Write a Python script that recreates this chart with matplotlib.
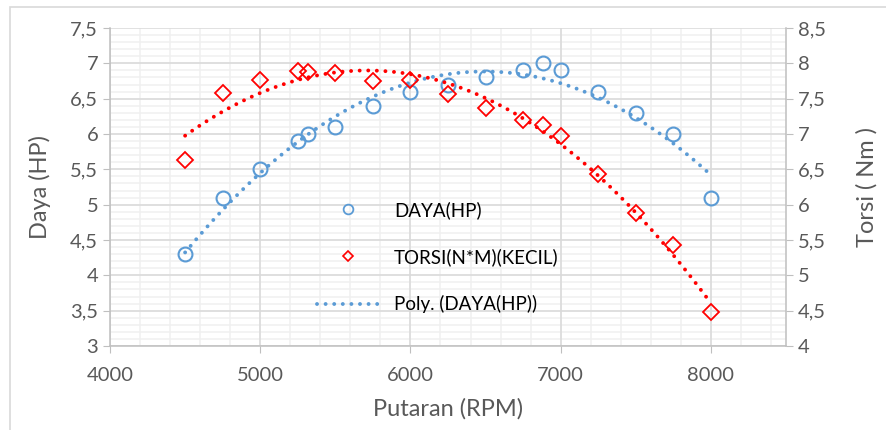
import numpy as np
import matplotlib
matplotlib.use('Agg')
import matplotlib.pyplot as plt
from matplotlib.ticker import MultipleLocator, FuncFormatter
from matplotlib.lines import Line2D
from matplotlib.patches import Rectangle

plt.rcParams['font.family'] = ['Lato', 'DejaVu Sans']

# data
rpm = [4500, 4750, 5000, 5250, 5320, 5500, 5750, 6000, 6250, 6500, 6750, 6880, 7000, 7250, 7500, 7750, 8000]
daya = [4.3, 5.1, 5.5, 5.9, 6.0, 6.1, 6.4, 6.6, 6.7, 6.8, 6.9, 7.0, 6.9, 6.6, 6.3, 6.0, 5.1]
torsi = [6.63, 7.58, 7.76, 7.89, 7.88, 7.87, 7.75, 7.76, 7.57, 7.37, 7.2, 7.13, 6.97, 6.44, 5.88, 5.43, 4.48]

blue = '#5B9BD5'
red = '#FF0000'
grey = '#595959'

fig = plt.figure(figsize=(8.86, 4.3), dpi=100)
fig.patches.append(Rectangle((10 / 886, -0.1), 1.0, 1 - 7 / 430 + 0.1, transform=fig.transFigure,
                             fill=False, edgecolor='#D9D9D9', lw=1.2))
ax = fig.add_axes([110 / 886, 1 - 346 / 430, 676 / 886, 318 / 430])
ax2 = ax.twinx()

comma = FuncFormatter(lambda v, p: ('%g' % v).replace('.', ','))

ax.set_xlim(4000, 8500)
ax.set_ylim(3, 7.5)
ax2.set_ylim(4, 8.5)
ax.xaxis.set_major_locator(MultipleLocator(1000))
ax.yaxis.set_major_locator(MultipleLocator(0.5))
ax2.yaxis.set_major_locator(MultipleLocator(0.5))
ax.yaxis.set_major_formatter(comma)
ax2.yaxis.set_major_formatter(comma)

# minor grid under the major grid
ax.vlines(np.arange(4200, 8500, 200), 3, 7.5, color='#F0F0F0', lw=1.1, zorder=0.1)
ax.hlines(np.arange(3.1, 7.5, 0.1), 4000, 8500, color='#F0F0F0', lw=1.1, zorder=0.1)
ax.grid(which='major', color='#D9D9D9', lw=1.1)
ax.set_axisbelow(True)

for a in (ax, ax2):
    for s in a.spines.values():
        s.set_color('#BFBFBF')
        s.set_linewidth(1.1)
    a.spines['top'].set_visible(False)
    a.tick_params(which='major', length=5, color='#BFBFBF', labelcolor=grey, labelsize=14.5)
ax.spines['right'].set_visible(False)
ax2.spines['left'].set_visible(False)
ax2.spines['bottom'].set_visible(False)
ax.tick_params(axis='x', pad=10)

# trendlines (2nd order polynomial)
xf = np.linspace(rpm[0], rpm[-1], 200)
pd_ = np.polyfit(rpm, daya, 2)
pt_ = np.polyfit(rpm, torsi, 2)
dot = (0, (0.01, 2.2))
ax.plot(xf, np.polyval(pd_, xf), color=blue, lw=2.8, ls=dot, dash_capstyle='round')
ax2.plot(xf, np.polyval(pt_, xf), color=red, lw=2.8, ls=dot, dash_capstyle='round')

ax.plot(rpm, daya, ls='none', marker='o', ms=10, mfc='none', mec=blue, mew=1.5)
ax2.plot(rpm, torsi, ls='none', marker='D', ms=8, mfc='none', mec=red, mew=1.3)

ax.set_xlabel('Putaran (RPM)', color=grey, fontsize=17, labelpad=10)
ax.set_ylabel('Daya (HP)', color=grey, fontsize=17, labelpad=14)
ax2.set_ylabel('Torsi ( Nm )', color=grey, fontsize=17, labelpad=22)

handles = [
    Line2D([], [], ls='none', marker='o', ms=7, mfc='none', mec=blue, mew=1.3),
    Line2D([], [], ls='none', marker='D', ms=5.5, mfc='none', mec=red, mew=1.2),
    Line2D([], [], color=blue, lw=2.8, ls=dot, dash_capstyle='round'),
]
labels = ['DAYA(HP)', 'TORSI(N*M)(KECIL)', 'Poly. (DAYA(HP))']
leg = ax2.legend(handles, labels, loc='upper left', bbox_to_anchor=(0.295, 0.48), frameon=False,
                 fontsize=13.5, labelspacing=1.56, handlelength=3.3, handletextpad=0.8,
                 borderaxespad=0)
for t in leg.get_texts():
    t.set_color('#000000')

fig.savefig('out.png', dpi=100)
